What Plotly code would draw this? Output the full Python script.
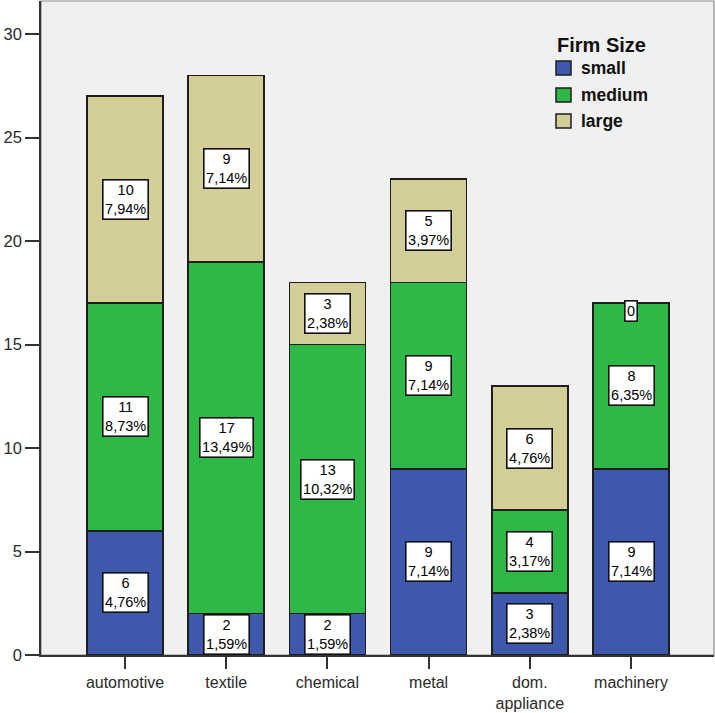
import plotly.graph_objects as go

# Firm counts per industry, split by firm size
industries = ["automotive", "textile", "chemical", "metal", "dom.<br>appliance", "machinery"]
small = [6, 2, 2, 9, 3, 9]
medium = [11, 17, 13, 9, 4, 8]
large = [10, 9, 3, 5, 6, 0]

size_names = ["small", "medium", "large"]
size_colors = ["#3E58AC", "#2EB848", "#D3CE97"]
series = [small, medium, large]

total = sum(sum(s) for s in series)

W, H = 715, 713
ML, MR, MT, MB = 41, 1, 1, 58
PW, PH = W - ML - MR, H - MT - MB

FONT = "Liberation Sans, Arial, sans-serif"


def px_x(px):
    return (px - ML) / PW


def px_y(py):
    return (H - MB - py) / PH


fig = go.Figure()
for name, vals, col in zip(size_names, series, size_colors):
    fig.add_trace(go.Bar(
        x=list(range(len(industries))), y=vals, name=name,
        marker=dict(color=col, line=dict(color="#1e1e1e", width=1.6)),
        width=0.75, showlegend=False, hoverinfo="skip",
    ))

# Count / percentage boxes in the middle of each segment
annotations = []
for i in range(len(industries)):
    base = 0
    for vals in series:
        v = vals[i]
        if v == 0:
            text = "0"
            shift = -8
        else:
            pct = f"{100 * v / total:.2f}".replace(".", ",")
            text = f"{v}<br>{pct}%"
            shift = 0
        annotations.append(dict(
            x=i, y=base + v / 2, xref="x", yref="y", text=text,
            showarrow=False, yshift=shift,
            font=dict(family=FONT, size=14.5, color="#000"),
            bgcolor="white", bordercolor="#111", borderwidth=1.6, borderpad=1.5,
            align="center",
        ))
        base += v

# Legend drawn by hand
annotations.append(dict(
    x=px_x(555), y=px_y(45), xref="paper", yref="paper", text="<b>Firm Size</b>",
    showarrow=False, xanchor="left", yanchor="middle",
    font=dict(family=FONT, size=20, color="#111"),
))
shapes = []
item_y = [68, 95, 121]
for name, col, yy in zip(size_names, size_colors, item_y):
    shapes.append(dict(
        type="rect", xref="paper", yref="paper",
        x0=px_x(556), x1=px_x(571), y0=px_y(yy - 7), y1=px_y(yy + 7),
        fillcolor=col, line=dict(color="#1e1e1e", width=1.5),
    ))
    annotations.append(dict(
        x=px_x(579), y=px_y(yy), xref="paper", yref="paper", text=f"<b>{name}</b>",
        showarrow=False, xanchor="left", yanchor="middle",
        font=dict(family=FONT, size=17.5, color="#111"),
    ))

# Light frame on the top and right of the plotting area
shapes.append(dict(
    type="rect", xref="paper", yref="paper", x0=0, x1=1, y0=0, y1=1,
    line=dict(color="#8a8a8a", width=1.2), fillcolor="rgba(0,0,0,0)", layer="below",
))

fig.update_layout(
    width=W, height=H, barmode="stack",
    margin=dict(l=ML, r=MR, t=MT, b=MB, pad=0),
    paper_bgcolor="white", plot_bgcolor="#F0F0F0",
    annotations=annotations, shapes=shapes,
    xaxis=dict(
        range=[-0.83, 5.82], tickmode="array",
        tickvals=list(range(len(industries))), ticktext=industries,
        ticks="outside", ticklen=12, tickwidth=1.5, tickcolor="#333",
        showline=True, linecolor="#333", linewidth=1.6,
        showgrid=False, zeroline=False,
        tickfont=dict(family=FONT, size=16, color="#2a2a2a"),
    ),
    yaxis=dict(
        range=[0, 31.6], tickmode="array", tickvals=[0, 5, 10, 15, 20, 25, 30],
        ticks="outside", ticklen=14, tickwidth=1.5, tickcolor="#333",
        showline=True, linecolor="#333", linewidth=1.6,
        showgrid=False, zeroline=False,
        tickfont=dict(family=FONT, size=16.5, color="#2a2a2a"),
    ),
)

fig.write_html("out.html")
